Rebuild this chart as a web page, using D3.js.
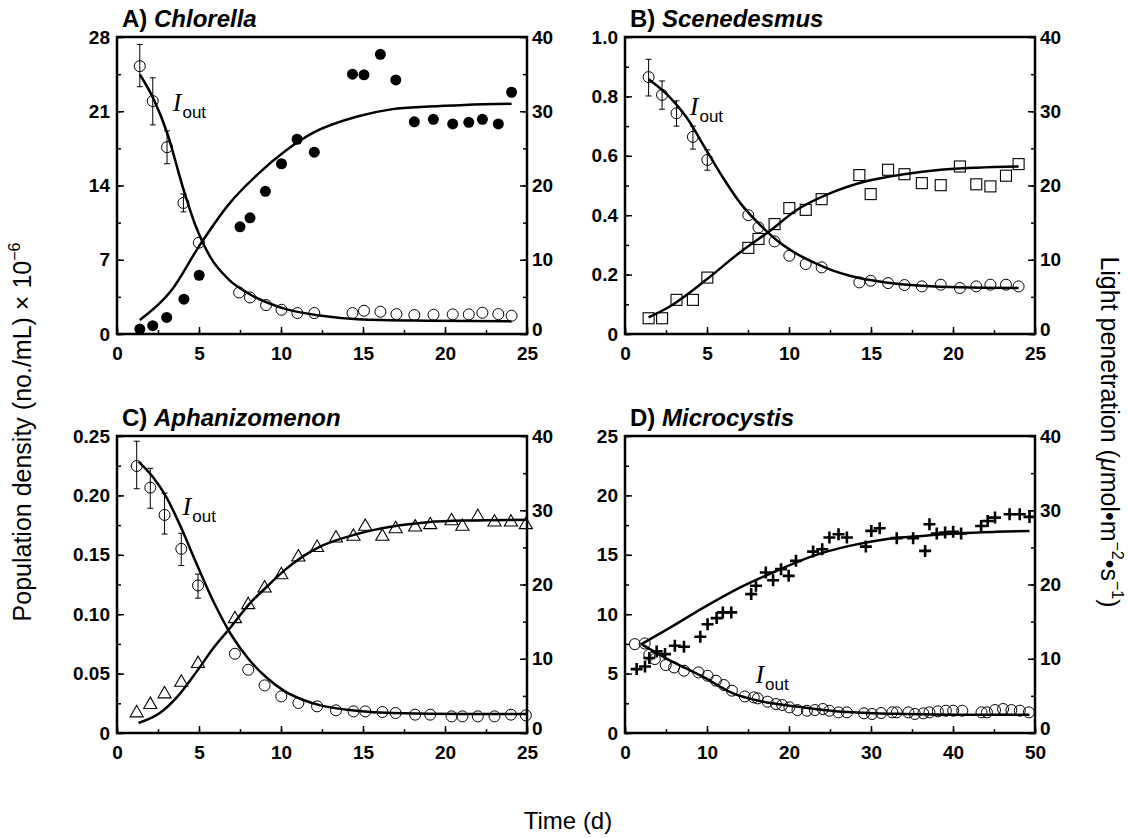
<!DOCTYPE html>
<html>
<head>
<meta charset="utf-8">
<script src="https://cdn.jsdelivr.net/npm/d3@7"></script>
<style>
  body { margin: 0; background: #fff; }
  svg { display: block; font-family: "Liberation Sans", Arial, Helvetica, sans-serif; }
</style>
</head>
<body>
<div class="chart"></div>
<script>
// ---- panel A: Chlorella ----
var aPopTime = [1.39, 2.18, 3.03, 4.08, 5.01, 7.5, 8.11, 9.05, 10.03, 10.98, 12.03, 14.36, 15.06, 16.06, 17.0, 18.13, 19.29, 20.47, 21.45, 22.28, 23.25, 24.06];
var aPop = [0.47, 0.78, 1.56, 3.28, 5.54, 10.1, 10.95, 13.45, 16.05, 18.36, 17.14, 24.5, 24.43, 26.37, 23.95, 20.0, 20.24, 19.8, 19.96, 20.24, 19.8, 22.79];
var aIoutTime = [1.39, 2.18, 3.05, 4.05, 4.99, 7.45, 8.11, 9.09, 10.03, 11.0, 12.03, 14.36, 15.06, 16.06, 17.04, 18.13, 19.3, 20.47, 21.45, 22.28, 23.25, 24.06];
var aIout = [36.07, 31.37, 25.16, 17.65, 12.29, 5.59, 4.92, 3.89, 3.26, 2.82, 2.82, 2.82, 3.13, 3.0, 2.68, 2.55, 2.59, 2.64, 2.64, 2.86, 2.68, 2.46];
var aErrHi = [39.0, 34.5, 27.35, 18.86];
var aErrLo = [33.3, 28.16, 22.93, 16.45];
var aPopFitT = [1.39, 3.3, 5.01, 6.8, 8.54, 10.3, 12.0, 14.65, 16.8, 19.0, 21.2, 24.06];
var aPopFit = [1.31, 4.07, 8.29, 12.2, 15.0, 17.3, 19.0, 20.5, 21.2, 21.45, 21.6, 21.7];
var aIoutFitT = [1.39, 2.22, 3.1, 3.97, 4.84, 5.71, 6.8, 8.1, 10.3, 12.47, 14.65, 19.0, 24.06];
var aIoutFit = [34.95, 31.7, 26.8, 20.1, 14.3, 10.28, 7.37, 5.36, 3.35, 2.46, 2.0, 1.79, 1.7];

// ---- panel B: Scenedesmus ----
var bTime = [1.44, 2.26, 3.14, 4.14, 5.02, 7.52, 8.14, 9.12, 10.02, 11.02, 11.99, 14.29, 14.98, 16.04, 17.04, 18.1, 19.25, 20.42, 21.42, 22.28, 23.23, 24.0];
var bPop = [0.053, 0.053, 0.115, 0.115, 0.19, 0.29, 0.32, 0.37, 0.424, 0.418, 0.454, 0.535, 0.471, 0.553, 0.538, 0.508, 0.501, 0.564, 0.504, 0.497, 0.533, 0.572];
var bIout = [34.6, 32.2, 29.73, 26.55, 23.45, 16.0, 14.35, 12.47, 10.54, 9.42, 8.97, 6.95, 7.17, 6.86, 6.59, 6.41, 6.64, 6.19, 6.41, 6.64, 6.64, 6.41];
var bErrHi = [37.0, 34.08, 31.4, 28.0, 24.8];
var bErrLo = [32.06, 30.27, 28.0, 24.9, 22.06];
var bPopFitT = [1.44, 2.65, 4.87, 7.08, 8.85, 10.4, 12.6, 14.82, 17.0, 19.25, 21.46, 24.0];
var bPopFit = [0.056, 0.09, 0.179, 0.278, 0.348, 0.415, 0.476, 0.516, 0.538, 0.553, 0.56, 0.564];
var bIoutFitT = [1.44, 2.65, 3.76, 4.87, 5.97, 7.08, 8.19, 9.29, 10.4, 11.5, 12.6, 13.7, 15.9, 18.1, 20.35, 24.0];
var bIoutFit = [34.3, 32.06, 29.15, 25.1, 21.08, 17.49, 14.8, 12.56, 10.9, 9.64, 8.6, 7.85, 6.95, 6.5, 6.28, 6.19];

// ---- panel C: Aphanizomenon ----
var cTime = [1.2, 2.03, 2.9, 3.92, 4.94, 7.19, 8.0, 9.0, 10.02, 11.06, 12.2, 13.35, 14.42, 15.14, 16.18, 16.99, 18.18, 19.1, 20.4, 21.06, 22.0, 23.02, 24.02, 24.93];
var cPop = [0.0168, 0.0238, 0.0328, 0.0426, 0.0583, 0.0961, 0.1079, 0.1219, 0.1331, 0.148, 0.156, 0.164, 0.1654, 0.1738, 0.1654, 0.1718, 0.1732, 0.1752, 0.1785, 0.1738, 0.182, 0.1774, 0.1774, 0.1752];
var cIout = [35.96, 33.05, 29.37, 24.8, 19.87, 10.67, 8.52, 6.41, 4.93, 4.04, 3.59, 3.05, 2.91, 2.91, 2.83, 2.69, 2.47, 2.47, 2.24, 2.24, 2.24, 2.24, 2.47, 2.38];
var cErrHi = [39.3, 35.65, 32.3, 26.9, 21.4];
var cErrLo = [32.9, 30.27, 26.8, 22.56, 18.16];
var cPopFitT = [1.31, 2.61, 3.7, 4.79, 5.88, 6.97, 8.06, 9.15, 10.24, 11.32, 12.41, 14.59, 16.77, 18.95, 21.12, 25.0];
var cPopFit = [0.0084, 0.0168, 0.0308, 0.0504, 0.0715, 0.0897, 0.1085, 0.1233, 0.1373, 0.1485, 0.157, 0.1673, 0.1738, 0.1774, 0.1788, 0.1794];
var cIoutFitT = [1.31, 2.18, 3.05, 3.92, 4.79, 5.88, 6.97, 8.06, 9.15, 10.24, 11.32, 12.41, 14.59, 16.77, 21.1, 25.0];
var cIoutFit = [36.55, 34.5, 31.6, 27.6, 23.1, 17.7, 13.2, 9.87, 7.4, 5.6, 4.48, 3.72, 3.0, 2.69, 2.56, 2.56];

// ---- panel D: Microcystis ----
var dPopTime = [1.42, 2.44, 2.97, 3.86, 4.88, 6.08, 7.19, 9.18, 10.07, 11.18, 11.93, 12.96, 15.39, 15.97, 17.17, 18.06, 19.03, 19.96, 20.85, 22.94, 24.05, 24.93, 26.04, 27.06, 29.37, 30.04, 31.06, 33.14, 35.14, 36.6, 37.13, 38.02, 39.04, 40.02, 40.99, 43.43, 44.23, 45.12, 46.9, 48.14, 49.33];
var dPop = [5.38, 5.6, 6.31, 6.87, 6.64, 7.34, 7.26, 8.1, 9.16, 9.67, 10.15, 10.15, 11.69, 12.39, 13.51, 12.86, 13.79, 13.23, 14.49, 15.27, 15.47, 16.45, 16.73, 16.45, 15.69, 17.01, 17.24, 16.4, 16.4, 15.33, 17.57, 16.79, 16.87, 16.93, 16.79, 17.43, 17.85, 18.13, 18.41, 18.41, 18.19];
var dIoutTime = [1.2, 2.4, 2.97, 3.64, 4.97, 5.99, 7.19, 8.96, 10.07, 11.09, 12.07, 13.04, 14.6, 15.7, 16.19, 17.39, 18.41, 19.17, 20.05, 21.03, 22.18, 23.16, 24.13, 24.93, 26.04, 27.06, 29.15, 30.12, 31.23, 32.6, 33.14, 34.56, 35.36, 36.38, 37.13, 38.15, 39.13, 40.02, 41.13, 43.48, 44.14, 45.12, 46.1, 47.12, 48.14, 49.25];
var dIout = [11.97, 12.06, 10.54, 9.96, 9.15, 8.83, 8.39, 8.16, 7.71, 7.04, 6.46, 5.7, 4.93, 4.8, 4.66, 4.22, 3.9, 3.77, 3.45, 3.09, 3.0, 3.09, 3.23, 3.0, 2.78, 2.78, 2.65, 2.56, 2.69, 2.78, 2.78, 2.78, 2.56, 2.65, 2.78, 2.91, 3.0, 3.0, 3.0, 2.78, 2.78, 3.09, 3.23, 3.09, 3.0, 2.78];
var dPopFitT = [2.0, 5.19, 9.63, 14.06, 18.5, 22.94, 27.37, 31.81, 36.25, 40.69, 45.12, 49.33];
var dPopFit = [7.48, 8.74, 10.57, 12.25, 13.65, 14.91, 15.75, 16.31, 16.59, 16.81, 16.93, 17.0];
var dIoutFitT = [2.0, 5.19, 9.63, 13.18, 16.28, 20.72, 25.15, 29.59, 34.03, 40.69, 49.33];
var dIoutFit = [11.97, 9.96, 7.49, 5.34, 4.35, 3.59, 3.0, 2.69, 2.56, 2.47, 2.47];

// tick labels
var xTicks25 = [0, 5, 10, 15, 20, 25];
var xTicks50 = [0, 10, 20, 30, 40, 50];
var rightTicks = [0, 10, 20, 30, 40];
var aLeftTicks = [0, 7, 14, 21, 28];
var bLeftTicks = [0, 0.2, 0.4, 0.6, 0.8, 1.0];
var cLeftTicks = [0, 0.05, 0.10, 0.15, 0.20, 0.25];
var dLeftTicks = [0, 5, 10, 15, 20, 25];

var svgWidth = 1128, svgHeight = 838;
var pw = 410, ph = 297;

var svg = d3.select('div.chart')
  .append('svg')
  .attr('width', svgWidth)
  .attr('height', svgHeight);

function zip(xs, ys) {
  return xs.map(function(x, i) { return [x, ys[i]]; });
}

function drawPanel(p) {
  var g = svg.append('g')
    .attr('transform', 'translate(' + p.left + ',' + p.top + ')');

  var x = d3.scaleLinear().domain([0, p.xMax]).range([0, pw]);
  var yL = d3.scaleLinear().domain([0, p.yMax]).range([ph, 0]);
  var yR = d3.scaleLinear().domain([0, 40]).range([ph, 0]);

  // title
  var t = g.append('text')
    .attr('x', 5)
    .attr('y', -10)
    .attr('font-size', 24)
    .attr('font-weight', 'bold');
  t.append('tspan').text(p.letter + ') ');
  t.append('tspan').attr('font-style', 'italic').text(p.name);

  // minor ticks
  var xStep = p.xTicks[1] - p.xTicks[0];
  var xMinor = d3.range(0, p.xMax + 0.001, xStep / 2);
  var lStep = p.leftTicks[1] - p.leftTicks[0];
  var lMinor = d3.range(0, p.yMax + lStep / 4, lStep / 2);
  var rMinor = d3.range(0, 41, 5);

  function noDomain(sel) { sel.select('.domain').remove(); }

  g.append('g').attr('transform', 'translate(0,' + ph + ')')
    .call(d3.axisBottom(x).tickValues(xMinor).tickSize(-4).tickFormat(''))
    .call(noDomain);
  g.append('g')
    .call(d3.axisLeft(yL).tickValues(lMinor).tickSize(-4).tickFormat(''))
    .call(noDomain);
  g.append('g').attr('transform', 'translate(' + pw + ',0)')
    .call(d3.axisRight(yR).tickValues(rMinor).tickSize(-4).tickFormat(''))
    .call(noDomain);

  // major ticks + labels
  var xAxis = g.append('g').attr('transform', 'translate(0,' + ph + ')')
    .call(d3.axisBottom(x).tickValues(p.xTicks).tickSize(-7).tickPadding(13).tickFormat(d3.format('d')))
    .call(noDomain);
  var lAxis = g.append('g')
    .call(d3.axisLeft(yL).tickValues(p.leftTicks).tickSize(-7).tickPadding(7).tickFormat(p.leftFmt))
    .call(noDomain);
  var rAxis = g.append('g').attr('transform', 'translate(' + pw + ',0)')
    .call(d3.axisRight(yR).tickValues(rightTicks).tickSize(-7).tickPadding(5).tickFormat(d3.format('d')))
    .call(noDomain);

  // the right-hand 0 sits a little high so it clears the x label below it
  rAxis.selectAll('.tick').filter(function(d) { return d === 0; })
    .select('text').attr('dy', '0.1em');

  g.selectAll('.tick line').attr('stroke', '#000').attr('stroke-width', 1.5);
  [xAxis, lAxis, rAxis].forEach(function(a) {
    a.selectAll('text')
      .attr('font-size', 19)
      .attr('font-weight', 'bold')
      .attr('fill', '#000')
      .attr('font-family', '"Liberation Sans", Arial, sans-serif');
  });

  // frame
  g.append('rect')
    .attr('width', pw)
    .attr('height', ph)
    .attr('fill', 'none')
    .attr('stroke', '#000')
    .attr('stroke-width', 2.5);

  // fitted curves
  var lineL = d3.line().x(function(d) { return x(d[0]); }).y(function(d) { return yL(d[1]); }).curve(d3.curveMonotoneX);
  var lineR = d3.line().x(function(d) { return x(d[0]); }).y(function(d) { return yR(d[1]); }).curve(d3.curveMonotoneX);

  g.append('path').datum(zip(p.popFitT, p.popFit))
    .attr('d', lineL).attr('fill', 'none').attr('stroke', '#000').attr('stroke-width', 2.5);
  g.append('path').datum(zip(p.ioutFitT, p.ioutFit))
    .attr('d', lineR).attr('fill', 'none').attr('stroke', '#000').attr('stroke-width', 2.5);

  // error bars on Iout
  var errs = p.errHi.map(function(h, i) { return { t: p.ioutTime[i], hi: h, lo: p.errLo[i] }; });
  var eg = g.selectAll('.err').data(errs).enter().append('g').attr('class', 'err');
  eg.append('line')
    .attr('x1', function(d) { return x(d.t); }).attr('x2', function(d) { return x(d.t); })
    .attr('y1', function(d) { return yR(d.hi); }).attr('y2', function(d) { return yR(d.lo); })
    .attr('stroke', '#000').attr('stroke-width', 1);
  ['hi', 'lo'].forEach(function(k) {
    eg.append('line')
      .attr('x1', function(d) { return x(d.t) - 3; }).attr('x2', function(d) { return x(d.t) + 3; })
      .attr('y1', function(d) { return yR(d[k]); }).attr('y2', function(d) { return yR(d[k]); })
      .attr('stroke', '#000').attr('stroke-width', 1);
  });

  // Iout points
  g.selectAll('.iout').data(zip(p.ioutTime, p.iout)).enter()
    .append('circle')
    .attr('class', 'iout')
    .attr('cx', function(d) { return x(d[0]); })
    .attr('cy', function(d) { return yR(d[1]); })
    .attr('r', 5.5)
    .attr('fill', 'none')
    .attr('stroke', '#000')
    .attr('stroke-width', 1);

  // population points
  var pts = zip(p.popTime, p.pop);
  var pg = g.selectAll('.pop').data(pts).enter().append('g')
    .attr('class', 'pop')
    .attr('transform', function(d) { return 'translate(' + x(d[0]) + ',' + yL(d[1]) + ')'; });
  if (p.marker === 'dot') {
    pg.append('circle').attr('r', 5.5).attr('fill', '#000');
  } else if (p.marker === 'square') {
    pg.append('rect').attr('x', -5.5).attr('y', -5.5).attr('width', 11).attr('height', 11)
      .attr('fill', 'none').attr('stroke', '#000').attr('stroke-width', 1.1);
  } else if (p.marker === 'triangle') {
    pg.append('path').attr('d', d3.symbol(d3.symbolTriangle, 75)())
      .attr('fill', 'none').attr('stroke', '#000').attr('stroke-width', 1.1);
  } else {
    pg.append('path').attr('d', 'M-6,0H6M0,-6V6')
      .attr('stroke', '#000').attr('stroke-width', 2.6);
  }

  // I_out label
  var lab = g.append('text')
    .attr('x', x(p.labT))
    .attr('y', yR(p.labV));
  lab.append('tspan')
    .attr('font-family', '"Liberation Serif", "Times New Roman", serif')
    .attr('font-style', 'italic')
    .attr('font-size', 26)
    .text('I');
  lab.append('tspan')
    .attr('font-size', 17)
    .attr('dy', 7)
    .attr('dx', 1)
    .text('out');
}

var fmtZero = function(f) { return function(d) { return d === 0 ? '0' : d3.format(f)(d); }; };

var panels = [
  { letter: 'A', name: 'Chlorella', left: 117, top: 37, xMax: 25, yMax: 28,
    xTicks: xTicks25, leftTicks: aLeftTicks, leftFmt: fmtZero('d'), marker: 'dot',
    popTime: aPopTime, pop: aPop, ioutTime: aIoutTime, iout: aIout, errHi: aErrHi, errLo: aErrLo,
    popFitT: aPopFitT, popFit: aPopFit, ioutFitT: aIoutFitT, ioutFit: aIoutFit, labT: 3.4, labV: 30 },
  { letter: 'B', name: 'Scenedesmus', left: 625, top: 37, xMax: 25, yMax: 1,
    xTicks: xTicks25, leftTicks: bLeftTicks, leftFmt: fmtZero('.1f'), marker: 'square',
    popTime: bTime, pop: bPop, ioutTime: bTime, iout: bIout, errHi: bErrHi, errLo: bErrLo,
    popFitT: bPopFitT, popFit: bPopFit, ioutFitT: bIoutFitT, ioutFit: bIoutFit, labT: 3.95, labV: 29.5 },
  { letter: 'C', name: 'Aphanizomenon', left: 117, top: 436, xMax: 25, yMax: 0.25,
    xTicks: xTicks25, leftTicks: cLeftTicks, leftFmt: fmtZero('.2f'), marker: 'triangle',
    popTime: cTime, pop: cPop, ioutTime: cTime, iout: cIout, errHi: cErrHi, errLo: cErrLo,
    popFitT: cPopFitT, popFit: cPopFit, ioutFitT: cIoutFitT, ioutFit: cIoutFit, labT: 4.0, labV: 29.3 },
  { letter: 'D', name: 'Microcystis', left: 625, top: 436, xMax: 50, yMax: 25,
    xTicks: xTicks50, leftTicks: dLeftTicks, leftFmt: fmtZero('d'), marker: 'plus',
    popTime: dPopTime, pop: dPop, ioutTime: dIoutTime, iout: dIout, errHi: [], errLo: [],
    popFitT: dPopFitT, popFit: dPopFit, ioutFitT: dIoutFitT, ioutFit: dIoutFit, labT: 15.9, labV: 6.8 }
];

panels.forEach(drawPanel);

// shared axis titles
var yt = svg.append('text')
  .attr('transform', 'translate(31,432) rotate(-90)')
  .attr('text-anchor', 'middle')
  .attr('font-size', 25);
yt.append('tspan').text('Population density (no./mL) \u00d7 10');
yt.append('tspan').attr('dy', -11).attr('font-size', 16).text('\u22126');

var rt = svg.append('text')
  .attr('transform', 'translate(1101,432) rotate(90)')
  .attr('text-anchor', 'middle')
  .attr('font-size', 25);
rt.append('tspan').text('Light penetration (');
rt.append('tspan').attr('font-style', 'italic').text('\u03bc');
rt.append('tspan').text('mol\u2022m');
rt.append('tspan').attr('dy', -11).attr('font-size', 16).text('\u22122');
rt.append('tspan').attr('dy', 11).text('\u2022s');
rt.append('tspan').attr('dy', -11).attr('font-size', 16).text('\u22121');
rt.append('tspan').attr('dy', 11).text(')');

svg.append('text')
  .attr('x', 568)
  .attr('y', 829)
  .attr('text-anchor', 'middle')
  .attr('font-size', 24)
  .text('Time (d)');
</script>
</body>
</html>
